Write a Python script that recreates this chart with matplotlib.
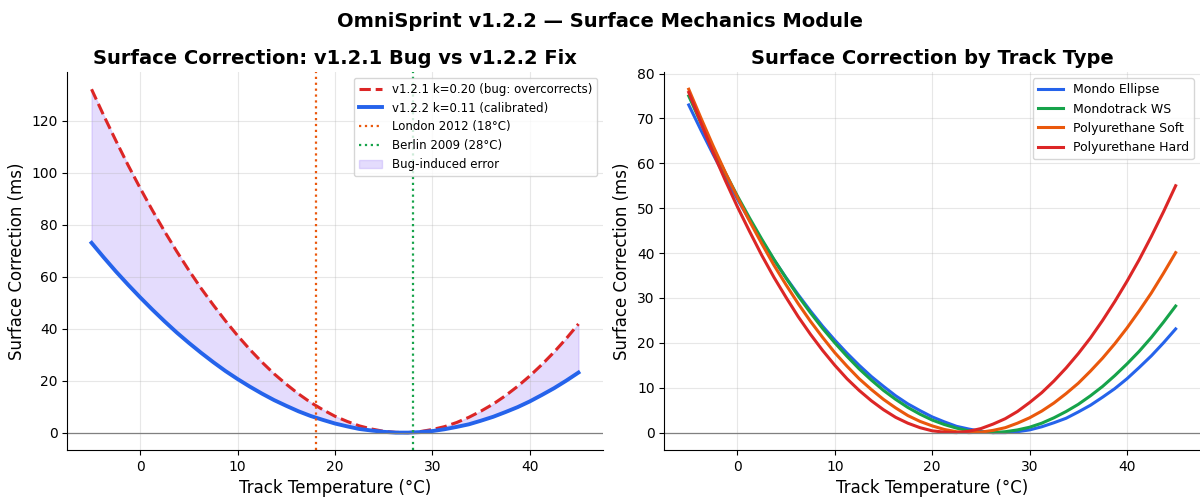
import matplotlib
matplotlib.use("Agg")
import matplotlib.pyplot as plt

# track temperature samples (°C), every 1.25 degrees
temps = [-5, -3.75, -2.5, -1.25, 0, 1.25, 2.5, 3.75, 5, 6.25, 7.5, 8.75, 10, 11.25,
         12.5, 13.75, 15, 16.25, 17.5, 18.75, 20, 21.25, 22.5, 23.75, 25, 26.25, 27.5,
         28.75, 30, 31.25, 32.5, 33.75, 35, 36.25, 37.5, 38.75, 40, 41.25, 42.5, 43.75, 45]

# left panel: v1.2.1 (bug) vs v1.2.2 (fix)
bugCorrection = [132.1, 122.0, 112.3, 102.9, 94.0, 85.5, 77.4, 69.7, 62.4, 55.5, 49.1,
                 43.0, 37.3, 32.0, 27.1, 22.6, 18.6, 14.9, 11.6, 8.8, 6.3, 4.3, 2.6,
                 1.4, 0.5, 0.1, 0.0, 0.4, 1.2, 2.3, 3.9, 5.9, 8.3, 11.0, 14.2, 17.8,
                 21.8, 26.2, 31.0, 36.2, 41.8]
fixCorrection = [73.0, 67.4, 62.0, 56.9, 52.0, 47.3, 42.8, 38.5, 34.5, 30.7, 27.1,
                 23.7, 20.6, 17.7, 15.0, 12.5, 10.3, 8.2, 6.4, 4.9, 3.5, 2.4, 1.4,
                 0.8, 0.3, 0.0, 0.0, 0.2, 0.6, 1.3, 2.2, 3.2, 4.6, 6.1, 7.9, 9.8,
                 12.0, 14.5, 17.1, 20.0, 23.1]
londonTemp = 18
berlinTemp = 28

# right panel: by track type
trackNames = ["Mondo Ellipse", "Mondotrack WS", "Polyurethane Soft", "Polyurethane Hard"]
mondoEllipse = fixCorrection
mondotrackWS = [75.0, 69.0, 63.4, 57.9, 52.7, 47.8, 43.1, 38.6, 34.4, 30.4, 26.7,
                23.2, 20.0, 17.0, 14.2, 11.7, 9.4, 7.4, 5.6, 4.1, 2.8, 1.8, 1.0,
                0.4, 0.1, 0.0, 0.2, 0.6, 1.2, 2.1, 3.3, 4.7, 6.3, 8.2, 10.3, 12.7,
                15.3, 18.1, 21.2, 24.6, 28.2]
polySoft = [76.5, 70.1, 63.9, 58.0, 52.4, 47.1, 42.1, 37.3, 32.9, 28.7, 24.8,
            21.2, 17.8, 14.8, 12.0, 9.6, 7.4, 5.5, 3.8, 2.5, 1.5, 0.7, 0.2,
            0.0, 0.1, 0.5, 1.1, 2.1, 3.3, 4.8, 6.6, 8.7, 11.0, 13.7, 16.6, 19.8,
            23.3, 27.1, 31.1, 35.5, 40.1]
polyHard = [75.8, 69.0, 62.4, 56.2, 50.3, 44.8, 39.5, 34.6, 30.1, 25.8, 21.9,
            18.3, 15.0, 12.0, 9.4, 7.1, 5.1, 3.4, 2.1, 1.1, 0.4, 0.1, 0.0,
            0.3, 0.9, 1.9, 3.1, 4.7, 6.7, 8.9, 11.5, 14.4, 17.6, 21.1, 25.0, 29.2,
            33.7, 38.5, 43.7, 49.2, 55.0]
trackColors = ["#2563eb", "#16a34a", "#ea580c", "#dc2626"]

fig, (ax1, ax2) = plt.subplots(1, 2, figsize=(12, 4.97), dpi=100)
fig.subplots_adjust(left=0.056, right=1.0, bottom=0.095, top=0.855, wspace=0.115)

# left
ax1.plot(temps, bugCorrection, "--", color="#dc2626", lw=2.2,
         label="v1.2.1 k=0.20 (bug: overcorrects)")
ax1.plot(temps, fixCorrection, "-", color="#2563eb", lw=2.8,
         label="v1.2.2 k=0.11 (calibrated)")
ax1.axvline(londonTemp, color="#ea580c", ls=":", lw=1.6, label="London 2012 (18°C)")
ax1.axvline(berlinTemp, color="#16a34a", ls=":", lw=1.6, label="Berlin 2009 (28°C)")
ax1.fill_between(temps, fixCorrection, bugCorrection, color="#a78bfa", alpha=0.3,
                 label="Bug-induced error")
ax1.axhline(0, color="gray", lw=0.9)
ax1.set_title("Surface Correction: v1.2.1 Bug vs v1.2.2 Fix", fontsize=14, fontweight="bold")
ax1.set_xlabel("Track Temperature (°C)", fontsize=12)
ax1.set_ylabel("Surface Correction (ms)", fontsize=12)
ax1.legend(fontsize=8.5, loc="upper right")
ax1.grid(alpha=0.3)

# right
for vals, name, col in zip([mondoEllipse, mondotrackWS, polySoft, polyHard],
                           trackNames, trackColors):
    ax2.plot(temps, vals, color=col, lw=2.2, label=name)
ax2.axhline(0, color="gray", lw=0.9)
ax2.set_title("Surface Correction by Track Type", fontsize=14, fontweight="bold")
ax2.set_xlabel("Track Temperature (°C)", fontsize=12)
ax2.set_ylabel("Surface Correction (ms)", fontsize=12)
ax2.legend(fontsize=9, loc="upper right")
ax2.grid(alpha=0.3)

for ax in (ax1, ax2):
    ax.spines["top"].set_visible(False)
    ax.spines["right"].set_visible(False)

fig.suptitle("OmniSprint v1.2.2 — Surface Mechanics Module", fontsize=14,
             fontweight="bold", y=0.975)
plt.savefig("out.png")
